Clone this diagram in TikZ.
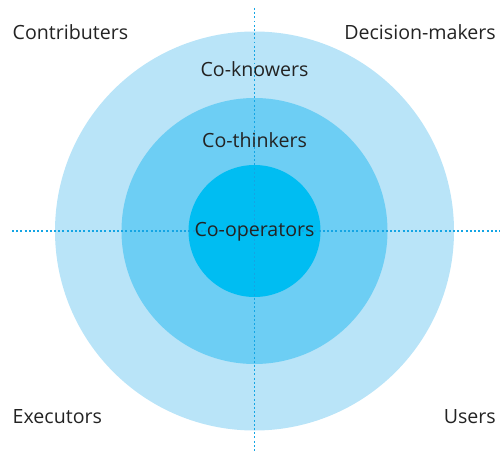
\documentclass[tikz,border=0pt]{standalone}
\usepackage{fontspec}
\setmainfont{Open Sans}
\usetikzlibrary{positioning}
\definecolor{ringouter}{RGB}{185,228,248}
\definecolor{ringmiddle}{RGB}{109,206,244}
\definecolor{ringinner}{RGB}{0,189,242}
\definecolor{axisblue}{RGB}{20,165,228}
\definecolor{labelgrey}{RGB}{35,35,35}

\begin{document}
\begin{tikzpicture}[x=1pt, y=-1pt, text=labelgrey, font=\fontsize{19.6}{23}\selectfont,
    ring/.style={circle, inner sep=0pt},
    axis/.style={axisblue, line width=1.8pt, dash pattern=on 1.9pt off 2.3pt},
    lbl/.style={inner sep=0pt}]
    \useasboundingbox (0,0) rectangle (500,452);

    % rings
    \node[ring, fill=ringouter, minimum size=399pt] (outer) at (254.5,231) {};
    \node[ring, fill=ringmiddle, minimum size=266pt] (middle) at (outer.center) {};
    \node[ring, fill=ringinner, minimum size=132pt] (inner) at (outer.center) {};

    % dotted axes
    \coordinate (north) at (254.5,8);
    \coordinate (south) at (254.5,452);
    \coordinate (west) at (12,231);
    \coordinate (east) at (500,231);
    \draw[axis] (north) -- (south);
    \draw[axis] (west) -- (east);

    % ring labels
    \node[lbl, anchor=base] (knowers) at (254.5,77) {Co-knowers};
    \node[lbl, anchor=base] (thinkers) at (254.5,147) {Co-thinkers};
    \node[lbl, anchor=base] (operators) at (254.5,236.5) {Co-operators};

    % quadrant labels
    \node[lbl, anchor=base west] (contrib) at (12.5,39.5) {Contributers};
    \node[lbl, anchor=base east] (deciders) at (496,39.5) {Decision-makers};
    \node[lbl, anchor=base west] (executors) at (12.5,423) {Executors};
    \node[lbl, anchor=base east] (users) at (496,423) {Users};
\end{tikzpicture}
\end{document}
